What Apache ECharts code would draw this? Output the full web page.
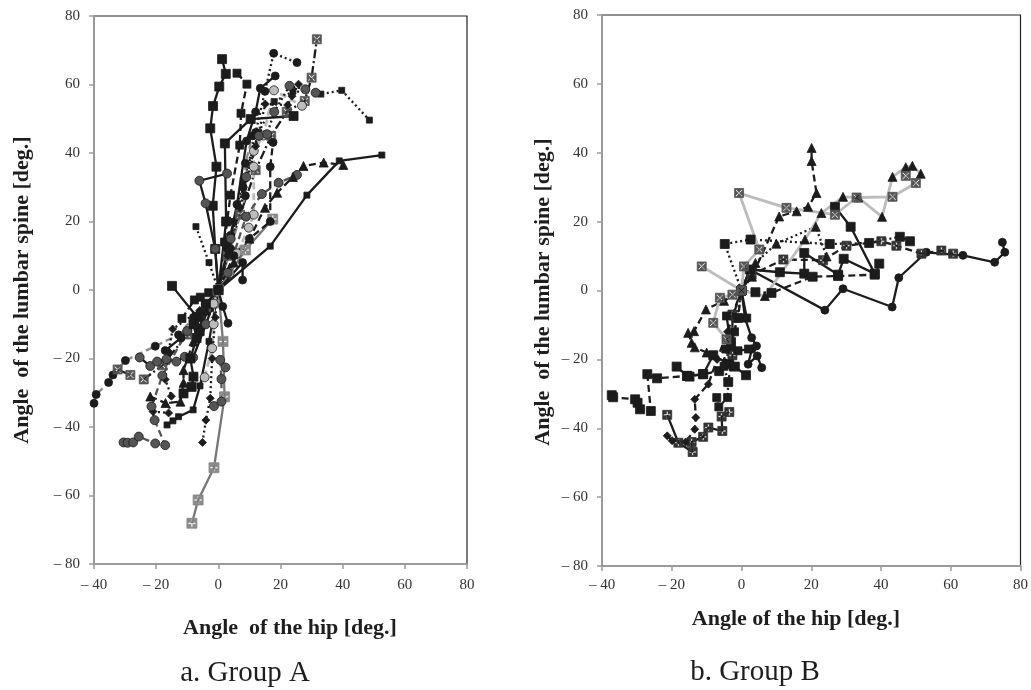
<!DOCTYPE html>
<html>
<head>
<meta charset="utf-8">
<script src="https://cdn.jsdelivr.net/npm/echarts@6/dist/echarts.min.js"></script>
<style>
  html, body { margin: 0; background: #fff; }
  #chart { width: 1031px; height: 690px; }
</style>
</head>
<body>
<div id="chart"></div>
<script>
// each trajectory: [angle of the hip, angle of the lumbar spine] in degrees

// Group A
var a01 = [[-14.9,1.2],[-6.9,-7.8],[-6,-12],[-3,-5],[0,0],[-1,12],[-1.8,24.6],[-0.6,36],[-2.6,47.2],[-1.7,53.7],[0.3,59.4],[2.4,63.1],[1.2,67.4]];
var a02 = [[-16.5,-39.4],[-14.6,-38.2],[-12.8,-37],[-8.1,-35],[-5.9,-28],[-3,-15],[0,0],[16.7,12.8],[28.5,27.7],[38.9,37.7],[52.6,39.4]];
var a03 = [[-7.2,18.5],[-3,8],[0,0],[3,10],[5,20],[8,32],[13,46],[18,55],[24,58],[31.3,57.6],[33,57.2],[39.7,58.3],[48.6,49.6]];
var a04 = [[-24,-26.1],[-18,-22],[-10,-13],[-4,-5],[0,0],[3,10],[7,22],[12,35],[17,45],[22,52],[27.8,55.2],[30,62],[31.7,73.2]];
var a05 = [[-40,-33.1],[-39.3,-30.5],[-35.3,-27],[-33.9,-24.8],[-29.9,-20.6],[-20.3,-16.4],[-12.8,-13.1],[-8,-8],[0,0],[4,12],[8.7,27.5],[8.7,37],[11,45]];
var a06 = [[-17.1,-17.7],[-12,-14],[-6,-8],[0,0],[3,12],[6,25],[9.1,43.5],[12,52],[13.5,58.9],[18.3,62.5]];
var a07 = [[0,0],[4,16],[8,30],[12,46],[15,58],[17.8,69.1],[25.3,66.4]];
var a08 = [[-11.7,-8.3],[-7.7,-2.9],[-5.8,-2.1],[-3.1,-0.8],[0,0],[2,14],[3.9,27.7],[6.9,42.3],[7.3,51.6],[9.2,60.1],[6,63.3]];
var a09 = [[0,0],[2.5,20],[2.1,42.8],[10.4,49.9],[24.2,50.8]];
var a10 = [[-25.3,-19.7],[-21.9,-22.2],[-19.7,-20.9],[-16.7,-20.2],[-13.5,-20.9],[-10.8,-19.5],[-8.1,-19.7],[-4,-10],[0,0],[-1,12],[-4.1,25.3],[-6.1,31.9],[2.8,34]];
var a11 = [[-4.4,-25.5],[-2,-17],[-1.5,-10],[-1.5,-4],[0,0],[3.6,4.9],[6,10.7],[9.8,18.2],[11.4,22],[11.4,36],[11.4,40.6],[14.5,45.1],[17.9,58.3],[26.9,53.8]];
var a12 = [[0,0],[3,5],[8.9,21.4],[14,28],[19.4,31.3],[25.3,33.6]];
var a13 = [[0,0],[4,15],[9,33],[13.1,45],[15.7,45.5],[18,52],[22.9,59.6],[28,58.6],[31.3,57.6]];
var a14 = [[-21.9,-31.1],[-17,-33],[-12.2,-32.6],[-11.2,-27.1],[-11.2,-23.4],[-8,-15],[-4,-6],[0,0],[5,8],[10,15],[15,24],[18.9,28.4],[24,33],[27.4,36.2],[33.9,37.2],[40.2,36.5]];
var a15 = [[-5.1,-44.5],[-4,-38],[-2.6,-31.6],[-2,-20],[-1,-8],[0,0],[3,10],[7,24],[12,42],[15.1,54.3],[22.3,54],[23.7,56.6],[25.8,60.1]];
var a16 = [[0,0],[-6,-6],[-14.7,-11.4],[-16,-18],[-17.1,-26.1],[-15.1,-31],[-16,-35.9],[-21,-35.5]];
var a17 = [[-8.5,-68.1],[-6.5,-61.3],[-1.4,-51.9],[2,-31.2],[1.5,-15],[0,0],[8.7,11.7],[17.5,20.7]];
var a18 = [[-30.5,-44.5],[-29.2,-44.6],[-27.4,-44.5],[-25.6,-42.8],[-20.3,-44.8],[-17.1,-45.3],[-20.5,-38],[-21.5,-34],[-18,-25],[-10,-12],[0,0]];
var a19 = [[-11.2,-30.2],[-8.6,-28.3],[-8,-25.3],[-9,-20],[-7,-14],[-8,-10],[-4,-4],[0,0]];
var a20 = [[-32.4,-23.2],[-28.3,-24.8]];
var a21 = [[0,0],[1.4,-4.8],[3.1,-9.7]];
var a22 = [[0,0],[5,10],[10,15],[16.7,20],[16.7,36],[17.6,43.1]];
var a23 = [[-1.4,-33.9],[1,-32.6],[1,-26],[0.6,-20.4],[2.3,-22.6]];
var a24 = [[0,0],[7.8,8],[7.8,2.9]];

// Group B
var b01 = [[5.8,-22.4],[4.5,-19],[1.9,-21.4],[3,-17],[4.3,-16.1],[2.9,-13.7],[1,-8],[0,0],[2.4,6.1],[23.9,-5.7],[29.1,0.5],[43.2,-4.8],[45.1,3.7],[53,11.1],[63.5,10.2],[72.6,8.2],[75.5,11.1],[74.8,14]];
var b02 = [[0,0],[-4.8,13.5],[2.6,14.8],[25.3,13.5],[36.6,13.8],[45.4,15.6],[48.3,14.3]];
var b03 = [[-21.3,-36.1],[-18.1,-44.2],[-14,-46.9],[-14.3,-44],[-11,-42.5],[-9.5,-39.8],[-5.5,-40.8],[-5.7,-36.6],[-3.5,-35.3]];
var b04 = [[-3.8,-26.6],[-2.6,-18.8],[-2.6,-7],[0,0],[2.9,4.6],[12,9],[23.4,8.8],[30.1,13],[40.1,14.3],[44.4,13],[51.6,10.7],[57.3,11.6],[60.7,10.7]];
var b05 = [[-4.3,-14.2],[-8.1,-9.4],[-6.2,-2.1],[-2.6,-1.2],[0,0],[0.7,7],[5.1,11.9],[-0.7,28.3],[12.9,24],[26.8,22],[33,27],[43.3,27.2],[50,31.2],[47.1,33.3]];
var b06 = [[-11.4,7],[0,0]];
var b07 = [[0,0],[6.7,-1.6],[18.2,14.8],[22.9,22.5],[29.1,27.2],[33.5,27],[40.3,21.4],[43.3,33],[47.1,35.8],[49,36.2],[51.4,33.9]];
var b08 = [[-10,-18],[-13.4,-16.5],[-14.3,-15.2],[-15.3,-12.3],[-13.6,-11.8],[-10.2,-5.5],[-5,-3],[0,0],[3,4],[10.8,21.5],[15.8,23],[19.1,24.3],[21.5,28.3],[20.1,37.6],[20.1,41.4]];
var b09 = [[0,0],[4,8],[10,13.6],[21.3,18.5],[24.4,9.9]];
var b10 = [[0,0],[2.4,6.1],[11,5.3],[18,4.9],[18,10.9],[27.7,4.6],[29.3,9.2],[38.2,4.9],[31.3,18.5],[26.8,24.3]];
var b11 = [[0,0],[4,-0.5],[8.6,-0.7],[20.4,4],[27.7,4.2],[38.2,4.6],[39.5,7.8]];
var b12 = [[-37.2,-30.4],[-36.8,-31],[-30.5,-31.6],[-29.8,-32.6],[-29.1,-34.5],[-26,-35],[-27,-24.3],[-24.2,-25.5],[-15.6,-24.8],[-14.9,-25],[-11,-24.3],[-6.4,-23.4],[-3,-15],[-1,-8],[0,0]];
var b13 = [[-18.6,-22.1],[-15.6,-24.8],[-11,-24.3],[-8.1,-18.8],[-3.5,-21.4],[-1.9,-22.1],[1.3,-24.6]];
var b14 = [[0,0],[1.5,-8],[-4.3,-7.4],[-3,-16],[-4.5,-17],[-1,-17.5],[2,-17]];
var b15 = [[-21.3,-42.2],[-19.9,-43.6],[-16,-44],[-13.4,-40.3],[-13.1,-36.9],[-13.4,-31.6],[-9.5,-27.2],[-7,-20],[-4,-12],[0,0]];
var b16 = [[-7.1,-31.1],[-6.5,-33.8],[-4,-31.1],[-3.8,-26.6],[-5,-22],[-2,-12],[0,0]];

var K = '#1c1c1c', DG = '#555', G = '#8c8c8c', LG = '#bcbcbc';
var SOLID = 'solid', DASH = [7, 4], DOT = [2, 3], DASHDOT = [9, 3, 2, 3];
// square with an x / a plus cut out of it
var boxX = 'path://M0,0L10,0L10,10L0,10Z M2,1L1,2L4,5L1,8L2,9L5,6L8,9L9,8L6,5L9,2L8,1L5,4Z';
var boxPlus = 'path://M0,0L10,0L10,10L0,10Z M4,1L4,4L1,4L1,6L4,6L4,9L6,9L6,6L9,6L9,4L6,4L6,1Z';

// [data, line colour, dash, symbol, size, fill]
var styleA = [
  [a01, K, SOLID, 'rect', 9, K],
  [a02, K, SOLID, 'rect', 6, K],
  [a03, K, DOT, 'rect', 6, K],
  [a04, K, DASHDOT, boxX, 9, DG],
  [a05, G, DASH, 'circle', 8, K],
  [a06, K, SOLID, 'circle', 8, K],
  [a07, K, DOT, 'circle', 8, K],
  [a08, K, DASH, 'rect', 8, K],
  [a09, K, SOLID, 'rect', 9, K],
  [a10, K, SOLID, 'circle', 9, DG],
  [a11, LG, DASH, 'circle', 9, LG],
  [a12, DG, DASH, 'circle', 9, DG],
  [a13, K, DOT, 'circle', 9, DG],
  [a14, K, DASH, 'triangle', 9, K],
  [a15, K, DOT, 'diamond', 8, K],
  [a16, K, DOT, 'diamond', 8, K],
  [a17, '#777', SOLID, boxPlus, 10, '#8a8a8a'],
  [a18, DG, DASH, 'circle', 9, DG],
  [a19, K, SOLID, 'rect', 9, K],
  [a20, K, SOLID, boxX, 9, DG],
  [a21, K, SOLID, 'circle', 8, K],
  [a22, K, DASH, 'circle', 8, K],
  [a23, DG, DASH, 'circle', 9, DG],
  [a24, K, SOLID, 'circle', 8, K]
];
var styleB = [
  [b01, K, SOLID, 'circle', 8, K],
  [b02, K, DOT, 'rect', 9, K],
  [b03, K, SOLID, boxPlus, 9, '#333'],
  [b04, K, DASH, boxPlus, 9, '#333'],
  [b06, LG, SOLID, boxX, 9, DG],
  [b08, K, DASH, 'triangle', 9, K],
  [b09, K, DOT, 'triangle', 9, K],
  [b10, K, SOLID, 'rect', 9, K],
  [b11, K, DASH, 'rect', 9, K],
  [b12, K, DASH, 'rect', 9, K],
  [b13, K, SOLID, 'rect', 9, K],
  [b14, K, SOLID, 'rect', 8, K],
  [b15, K, DASH, 'diamond', 8, K],
  [b16, K, DOT, 'rect', 8, K],
  [b07, LG, SOLID, 'triangle', 9, K],
  [b05, LG, SOLID, boxX, 9, DG]
];

function toSeries(list, idx) {
  return list.map(function (s) {
    return {
      type: 'line',
      xAxisIndex: idx,
      yAxisIndex: idx,
      data: s[0],
      symbol: s[3],
      symbolSize: s[4],
      showAllSymbol: true,
      lineStyle: { color: s[1], width: s[1] === LG ? 2.8 : 2.3, type: s[2] },
      itemStyle: { color: s[5], borderColor: s[3] === 'circle' ? K : s[5], borderWidth: 0.8 },
      emphasis: { disabled: true },
      z: 3
    };
  });
}

function tickText(v) {
  return v < 0 ? '\u2013 ' + (-v) : String(v);
}

var labelFont = { fontFamily: 'Liberation Serif', fontSize: 15, color: '#333' };

function xAx(idx, margin) {
  return {
    gridIndex: idx, type: 'value', min: -40, max: 80, interval: 20,
    axisLine: { onZero: false, lineStyle: { color: '#9a9a9a', width: 2 } },
    axisTick: { length: 5, lineStyle: { color: '#9a9a9a', width: 1.5 } },
    axisLabel: Object.assign({ margin: margin, formatter: tickText }, labelFont),
    splitLine: { show: false }
  };
}
function yAx(idx) {
  return {
    gridIndex: idx, type: 'value', min: -80, max: 80, interval: 20,
    axisLine: { onZero: false, lineStyle: { color: '#9a9a9a', width: 2 } },
    axisTick: { length: 5, lineStyle: { color: '#9a9a9a', width: 1.5 } },
    axisLabel: Object.assign({ margin: 14, formatter: tickText }, labelFont),
    splitLine: { show: false }
  };
}

function txt(x, y, text, size, bold, rot) {
  return {
    type: 'text', x: x, y: y, rotation: rot || 0,
    style: {
      text: text, fill: '#1e1e1e', align: 'center', verticalAlign: 'middle',
      font: (bold ? 'bold ' : '') + size + 'px "Liberation Serif"'
    }
  };
}

var chart = echarts.init(document.getElementById('chart'));
chart.setOption({
  animation: false,
  backgroundColor: '#fff',
  grid: [
    { left: 94, top: 16, width: 373, height: 548, show: true, borderColor: '#222', borderWidth: 1.2 },
    { left: 602, top: 15, width: 419, height: 551, show: true, borderColor: '#222', borderWidth: 1.2 }
  ],
  xAxis: [xAx(0, 14), xAx(1, 12)],
  yAxis: [yAx(0), yAx(1)],
  series: toSeries(styleA, 0).concat(toSeries(styleB, 1)),
  graphic: [
    txt(290, 628, 'Angle  of the hip [deg.]', 22, true),
    txt(796, 619, 'Angle of the hip [deg.]', 22, true),
    txt(22, 290, 'Angle  of the lumbar spine [deg.]', 22, true, Math.PI / 2),
    txt(543, 292, 'Angle  of the lumbar spine [deg.]', 22, true, Math.PI / 2),
    txt(245, 673, 'a. Group A', 29, false),
    txt(755, 672, 'b. Group B', 29, false)
  ]
});
</script>
</body>
</html>
